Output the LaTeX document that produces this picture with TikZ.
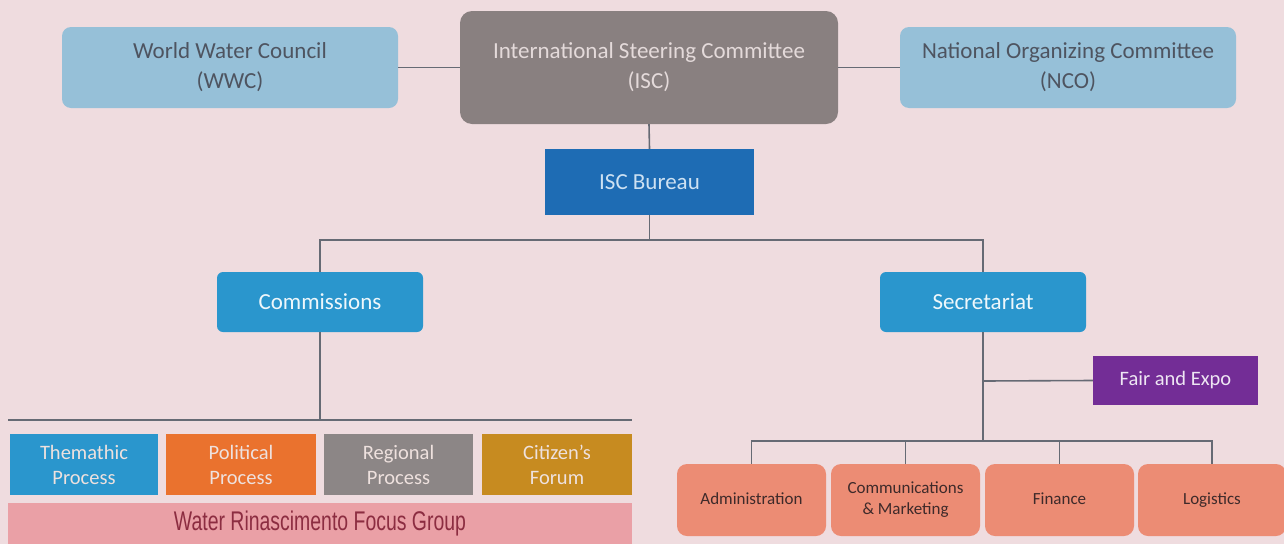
\documentclass[tikz,border=0pt]{standalone}
\usepackage{fontspec}
\setmainfont{Carlito}
\newfontfamily\condfont[FakeStretch=0.72]{Liberation Sans}
\definecolor{bgpink}{RGB}{239,220,223}
\definecolor{lblue}{RGB}{150,192,216}
\definecolor{lbtext}{RGB}{78,84,96}
\definecolor{iscgray}{RGB}{137,128,128}
\definecolor{isctext}{RGB}{228,218,218}
\definecolor{bureau}{RGB}{30,108,180}
\definecolor{bureautext}{RGB}{205,225,242}
\definecolor{midblue}{RGB}{42,150,205}
\definecolor{procorange}{RGB}{234,114,46}
\definecolor{procgray}{RGB}{140,134,134}
\definecolor{procgold}{RGB}{199,139,32}
\definecolor{proctext}{RGB}{238,225,222}
\definecolor{purple}{RGB}{115,45,150}
\definecolor{salmon}{RGB}{236,140,116}
\definecolor{salmontext}{RGB}{62,42,42}
\definecolor{focuspink}{RGB}{234,160,166}
\definecolor{focustext}{RGB}{140,45,65}
\definecolor{linegray}{RGB}{102,106,116}
\begin{document}
\begin{tikzpicture}[x=1pt,y=-1pt,
  box/.style={inner sep=0pt, align=center, anchor=center},
  topbox/.style={box, rounded corners=9pt, font=\fontsize{23}{30}\selectfont},
  midbox/.style={box, rounded corners=6pt, fill=midblue, text=white!92!midblue, minimum width=206pt, minimum height=60pt, font=\fontsize{23}{26}\selectfont},
  procbox/.style={box, minimum height=61pt, text=proctext, font=\fontsize{20.5}{25}\selectfont},
  salbox/.style={box, rounded corners=10pt, fill=salmon, text=salmontext, minimum height=72pt, font=\fontsize{17}{21}\selectfont},
  conn/.style={draw=linegray, line width=1.6pt}
]
\fill[bgpink] (0,0) rectangle (1284,544);
\useasboundingbox (0,0) rectangle (1284,544);

% top row
\node[topbox, fill=lblue, text=lbtext, minimum width=336pt, minimum height=81pt] (wwc) at (230,67.5) {World Water Council\\(WWC)};
\node[topbox, rounded corners=12pt, fill=iscgray, text=isctext, minimum width=378pt, minimum height=113pt] (isc) at (649,67.5) {International Steering Committee\\(ISC)};
\node[topbox, fill=lblue, text=lbtext, minimum width=336pt, minimum height=81pt] (nco) at (1068,67.5) {National Organizing Committee\\(NCO)};

\node[box, fill=bureau, text=bureautext, minimum width=209pt, minimum height=66pt, font=\fontsize{23}{26}\selectfont] (bur) at (649.5,182) {ISC Bureau};

\node[midbox] (com) at (320,302) {Commissions};
\node[midbox] (sec) at (983,302) {Secretariat};

% process boxes
\node[procbox, fill=midblue, minimum width=148pt] (them) at (84,464.5) {Themathic\\Process};
\node[procbox, fill=procorange, minimum width=150pt] (pol) at (241,464.5) {Political\\Process};
\node[procbox, fill=procgray, minimum width=149pt] (reg) at (398.5,464.5) {Regional\\Process};
\node[procbox, fill=procgold, minimum width=150pt] (cit) at (557,464.5) {Citizen's\\Forum};
\node[box, fill=focuspink, text=focustext, minimum width=624pt, minimum height=41pt, font=\condfont\fontsize{27}{30}\selectfont] (focus) at (320,523.5) {Water Rinascimento Focus Group};

% secretariat side
\node[box, fill=purple, text=white!88!purple, minimum width=165pt, minimum height=49pt, font=\fontsize{20.5}{24}\selectfont] (fair) at (1175.5,380.5) {Fair and Expo};
\node[salbox, minimum width=149pt] (adm) at (751.5,500) {\strut Administration};
\node[salbox, minimum width=149pt] (cmk) at (905.5,500) {Communications\\\& Marketing};
\node[salbox, minimum width=149pt] (fin) at (1059.5,500) {\strut Finance};
\node[salbox, minimum width=148pt] (log) at (1212,500) {\strut Logistics};

% coordinates
\coordinate (bj) at (649.5,240);
\coordinate (cl) at (8,420);
\coordinate (cr) at (632,420);
\coordinate (cj) at (320,420);
\coordinate (sj) at (983,381);
\coordinate (sb) at (983,441);

% connectors
\draw[conn] (wwc.east) -- (isc.west);
\draw[conn] (isc.east) -- (nco.west);
\draw[conn] (isc.south) -- (bur.north);
\draw[conn] (bur.south) -- (bj);
\draw[conn] (com.north) |- (bj) -| (sec.north);
\draw[conn] (com.south) -- (cj);
\draw[conn] (cl) -- (cr);
\draw[conn] (sec.south) -- (sb);
\draw[conn] (sj) -- (fair.west);
\draw[conn] (adm.north) |- (sb) -| (log.north);
\draw[conn] (cmk.north) -- (cmk.north |- sb);
\draw[conn] (fin.north) -- (fin.north |- sb);
\end{tikzpicture}
\end{document}
